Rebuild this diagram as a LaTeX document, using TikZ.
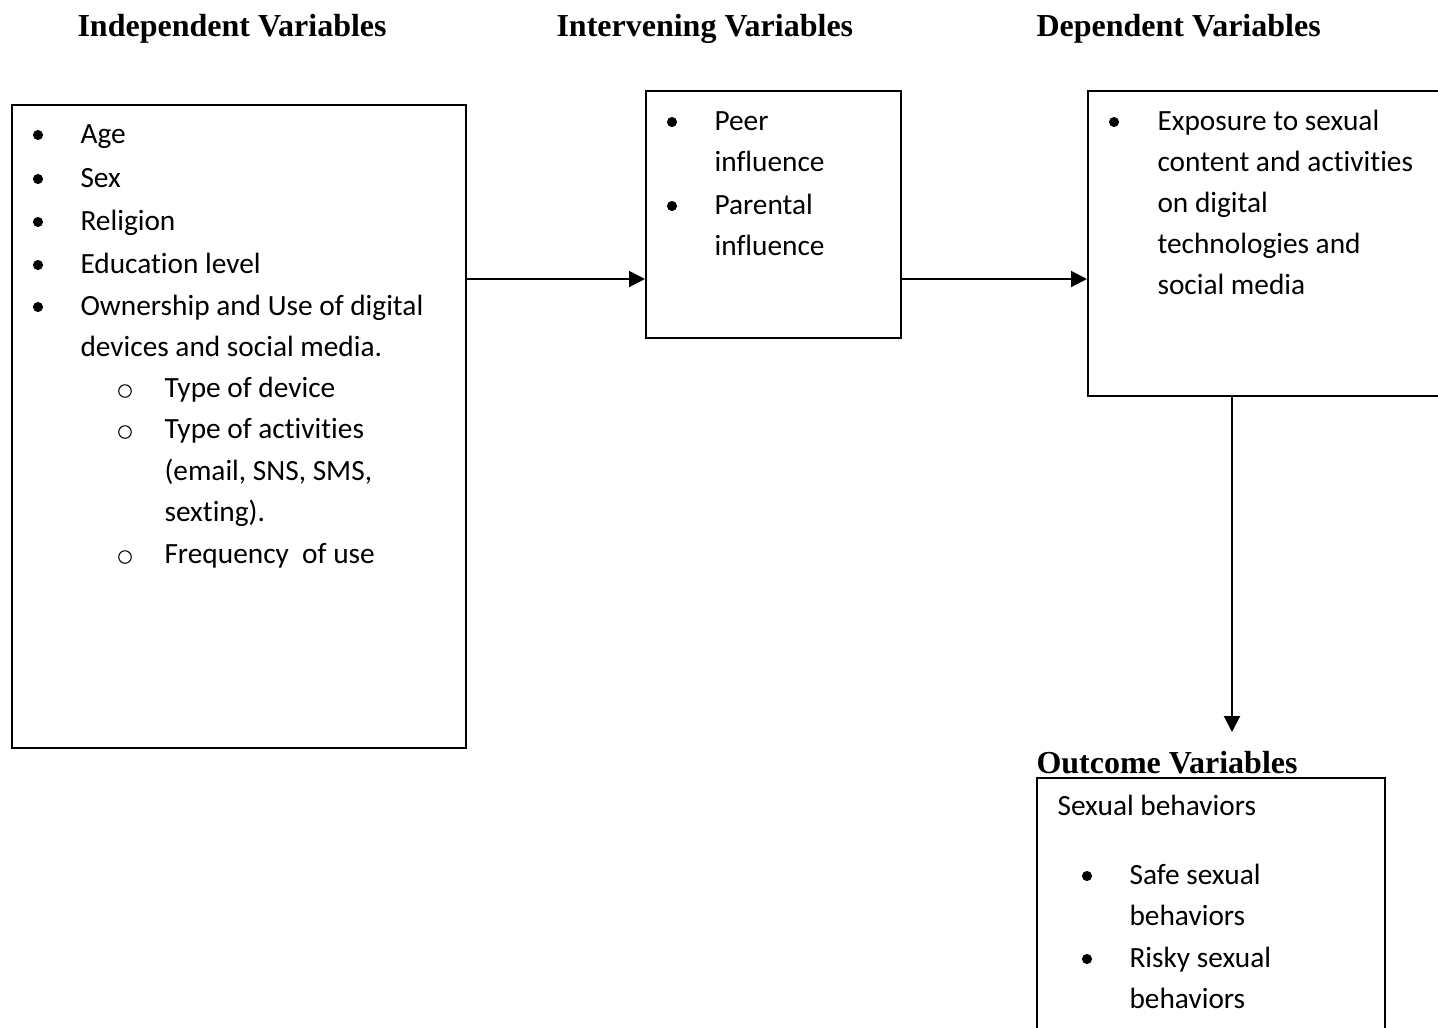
\documentclass[tikz,border=0pt]{standalone}
\usepackage{fontspec}
\setmainfont{Carlito}[Ligatures=NoCommon]
\newfontfamily\headfont{Liberation Serif}
\usetikzlibrary{arrows.meta}

\begin{document}
\begin{tikzpicture}[x=0.375pt,y=-0.375pt]
	\tikzstyle{box}=[draw,line width=0.75pt,anchor=north west,inner sep=0pt]
	\tikzstyle{title}=[font=\headfont\bfseries\fontsize{12}{14}\selectfont,anchor=base west,inner sep=0pt]
	\tikzstyle{item}=[font=\fontsize{11}{13}\selectfont,anchor=base west,inner sep=0pt]
	\tikzstyle{dot}=[circle,fill=black,inner sep=0pt,minimum size=3.8pt]
	\tikzstyle{ring}=[circle,draw,line width=0.4pt,inner sep=0pt,minimum size=4.7pt]
	\tikzstyle{link}=[-{Triangle[length=6pt,width=6pt]},line width=0.75pt]

	\useasboundingbox[clip] (0,0) rectangle (1438,1027);

	% headings
	\node[title] (h-ind) at (77,36)   {Independent Variables};
	\node[title] (h-int) at (556,36)  {Intervening Variables};
	\node[title] (h-dep) at (1036,36) {Dependent Variables};
	\node[title] (h-out) at (1036,773) {Outcome Variables};

	% boxes
	\node[box,minimum width=170.25pt,minimum height=241.1pt] (ind) at (11,104) {};
	\node[box,minimum width=95.6pt,minimum height=92.6pt]    (int) at (645,90) {};
	\node[box,minimum width=136.1pt,minimum height=114.4pt]  (dep) at (1087,90) {};
	\node[box,minimum width=130.5pt,minimum height=98.6pt]   (out) at (1036,777) {};

	% independent variables
	\node[dot]  (ind-b1) at (38,135) {};
	\node[item] (ind-1)  at (80,143) {Age};
	\node[dot]  (ind-b2) at (38,179) {};
	\node[item] (ind-2)  at (80,187) {Sex};
	\node[dot]  (ind-b3) at (38,222) {};
	\node[item] (ind-3)  at (80,230) {Religion};
	\node[dot]  (ind-b4) at (38,265) {};
	\node[item] (ind-4)  at (80,273) {Education level};
	\node[dot]  (ind-b5) at (38,307) {};
	\node[item] (ind-5)  at (80,315) {Ownership and Use of digital};
	\node[item] (ind-5b) at (80,356) {devices and social media.};
	\node[ring] (ind-o1) at (125,391) {};
	\node[item] (ind-6)  at (164,397) {Type of device};
	\node[ring] (ind-o2) at (125,432) {};
	\node[item] (ind-7)  at (164,438) {Type of activities};
	\node[item] (ind-7b) at (164,480) {(email, SNS, SMS,};
	\node[item] (ind-7c) at (164,521) {sexting).};
	\node[ring] (ind-o3) at (125,557) {};
	\node[item] (ind-8)  at (164,563) {Frequency\ \ of use};

	% intervening variables
	\node[dot]  (int-b1) at (672,122) {};
	\node[item] (int-1)  at (714,130) {Peer};
	\node[item] (int-1b) at (714,171) {influence};
	\node[dot]  (int-b2) at (672,206) {};
	\node[item] (int-2)  at (714,214) {Parental};
	\node[item] (int-2b) at (714,255) {influence};

	% dependent variables
	\node[dot]  (dep-b1) at (1114,122) {};
	\node[item] (dep-1)  at (1157,130) {Exposure to sexual};
	\node[item] (dep-1b) at (1157,171) {content and activities};
	\node[item] (dep-1c) at (1157,212) {on digital};
	\node[item] (dep-1d) at (1157,253) {technologies and};
	\node[item] (dep-1e) at (1157,294) {social media};

	% outcome variables
	\node[item] (out-0)  at (1057,815) {Sexual behaviors};
	\node[dot]  (out-b1) at (1087,876) {};
	\node[item] (out-1)  at (1129,884) {Safe sexual};
	\node[item] (out-1b) at (1129,925) {behaviors};
	\node[dot]  (out-b2) at (1087,959) {};
	\node[item] (out-2)  at (1129,967) {Risky sexual};
	\node[item] (out-2b) at (1129,1008) {behaviors};

	% connectors
	\coordinate (row) at (0,279);
	\coordinate (drop) at (1232,732);
	\draw[link] (ind.east |- row) -- (int.west |- row);
	\draw[link] (int.east |- row) -- (dep.west |- row);
	\draw[link] (dep.south -| drop) -- (drop);
\end{tikzpicture}
\end{document}
